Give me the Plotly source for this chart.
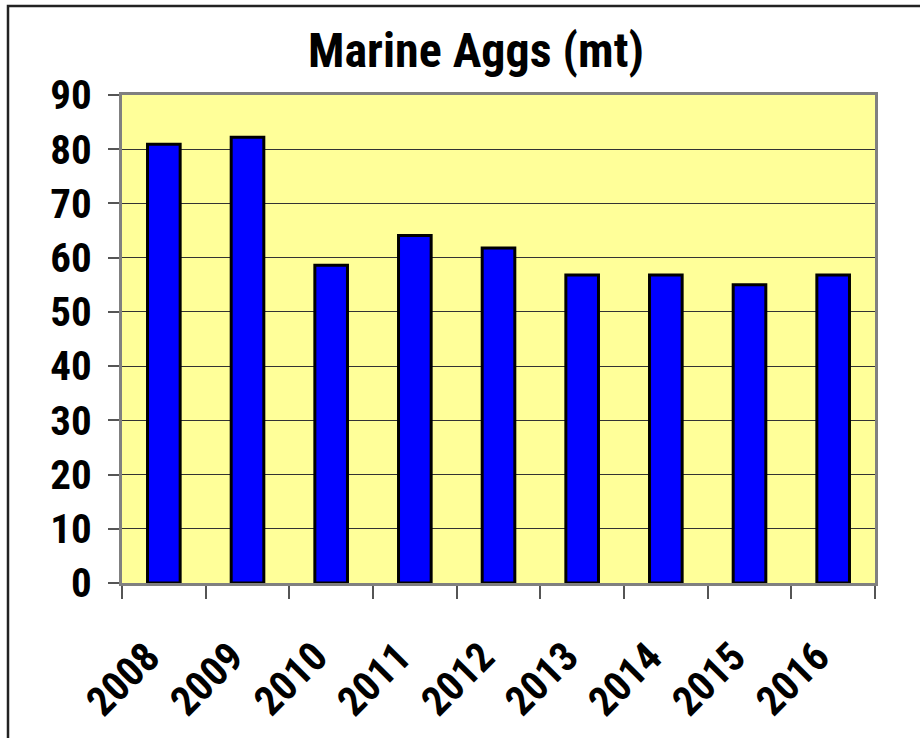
import plotly.graph_objects as go

# Annual marine aggregates tonnage (million tonnes)
years = ["2008", "2009", "2010", "2011", "2012", "2013", "2014", "2015", "2016"]
tonnage = [80.9, 82.2, 58.6, 64.1, 61.8, 56.8, 56.8, 55.0, 56.8]
y_ticks = [0, 10, 20, 30, 40, 50, 60, 70, 80, 90]

W, H = 920, 738
L, R, T, B = 122, 45, 95, 155
pw, ph = W - L - R, H - T - B

FONT = "Roboto Condensed, Liberation Sans Narrow, Arial Narrow, Liberation Sans, Arial, sans-serif"


def px_to_paper_x(px):
    return (px - L) / pw


def px_to_paper_y(py):
    return (H - B - py) / ph


fig = go.Figure(
    go.Bar(
        x=years,
        y=tonnage,
        width=0.39,
        marker=dict(color="#0000FF", line=dict(color="#000000", width=3)),
        hoverinfo="x+y",
    )
)

# slanted year labels under each category (positioned by category index)
for i, yr in enumerate(years):
    fig.add_annotation(
        x=i,
        xref="x",
        y=px_to_paper_y(678.5),
        yref="paper",
        xshift=-41,
        text=yr,
        textangle=-45,
        showarrow=False,
        xanchor="center",
        yanchor="middle",
        font=dict(family=FONT, size=41, color="#000000", weight="bold"),
    )

fig.update_layout(
    width=W,
    height=H,
    margin=dict(l=L, r=R, t=T, b=B, autoexpand=False),
    paper_bgcolor="#FFFFFF",
    plot_bgcolor="#FFFF99",
    showlegend=False,
    title=dict(
        text="Marine Aggs (mt)",
        font=dict(family=FONT, size=48, color="#000000", weight="bold"),
        x=476 / W,
        xanchor="center",
        xref="container",
        y=1 - 50 / H,
        yanchor="middle",
        yref="container",
    ),
    shapes=[
        # frame around the whole chart
        dict(
            type="rect",
            xref="paper",
            yref="paper",
            x0=px_to_paper_x(8),
            x1=px_to_paper_x(W + 10),
            y0=px_to_paper_y(H + 10),
            y1=px_to_paper_y(6),
            line=dict(color="#222222", width=2.5),
            fillcolor="rgba(0,0,0,0)",
            layer="above",
        )
    ],
)

fig.update_xaxes(
    type="category",
    range=[-0.5, 8.5],
    showgrid=False,
    showline=True,
    linecolor="#808080",
    linewidth=3,
    mirror=True,
    ticks="outside",
    tickson="boundaries",
    ticklen=13,
    tickcolor="#555555",
    tickwidth=1.5,
    showticklabels=False,
)

fig.update_yaxes(
    range=[0, 90],
    tickmode="array",
    tickvals=y_ticks,
    ticktext=[str(v) for v in y_ticks],
    showgrid=True,
    gridcolor="#333333",
    gridwidth=1,
    zeroline=False,
    showline=True,
    linecolor="#808080",
    linewidth=3,
    mirror=True,
    ticks="outside",
    ticklen=11,
    tickcolor="#555555",
    tickwidth=1.5,
    tickfont=dict(family=FONT, size=41, color="#000000", weight="bold"),
    ticklabelstandoff=8,
)

fig.write_html("out.html")
